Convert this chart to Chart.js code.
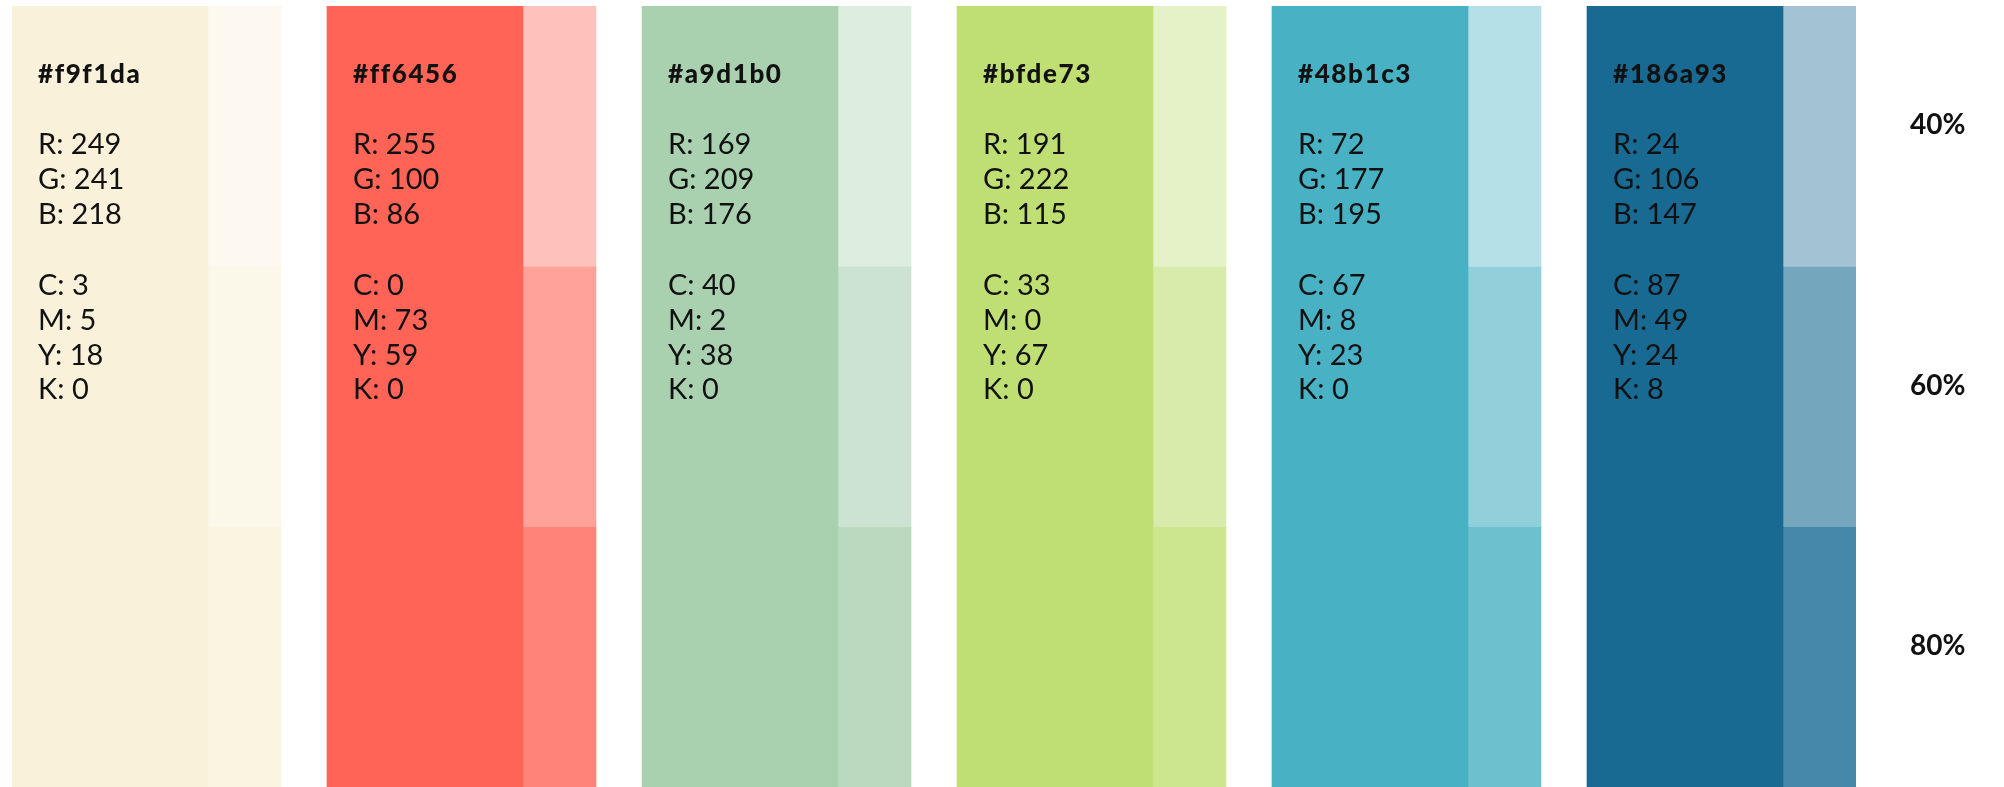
<!DOCTYPE html>
<html>
<head>
<meta charset="utf-8">
<title>Palette</title>
<script src="https://cdn.jsdelivr.net/npm/chart.js@4.4.1/dist/chart.umd.min.js"></script>
<style>
  html, body { margin: 0; padding: 0; background: #fff; }
  #wrap { width: 2004px; height: 787px; position: relative; }
</style>
</head>
<body>
<div id="wrap"><canvas id="chart"></canvas></div>
<script>
// Palette values
const hexCodes = ['#f9f1da', '#ff6456', '#a9d1b0', '#bfde73', '#48b1c3', '#186a93'];
const rValues = [249, 255, 169, 191, 72, 24];
const gValues = [241, 100, 209, 222, 177, 106];
const bValues = [218, 86, 176, 115, 195, 147];
const cValues = [3, 0, 40, 33, 67, 87];
const mValues = [5, 73, 2, 0, 8, 49];
const yValues = [18, 59, 38, 67, 23, 24];
const kValues = [0, 0, 0, 0, 0, 8];
const tintLabels = ['40%', '60%', '80%'];
const tintLevels = [40, 60, 80];

// Each swatch takes one unit on the x scale: wide main block, then the tint strip
const MAIN = 196 / 315;
const STRIP = 73 / 315;

// Mix a hex colour with white, pct = share of the colour that is kept
function tint(hex, pct) {
  const n = parseInt(hex.slice(1), 16);
  const mix = c => Math.round(c * pct / 100 + 255 * (1 - pct / 100));
  return 'rgb(' + mix((n >> 16) & 255) + ',' + mix((n >> 8) & 255) + ',' + mix(n & 255) + ')';
}

// One dataset for the main blocks, one per tint row for the strips
const mainData = hexCodes.map((h, i) => ({ x: [i, i + MAIN], y: 'all' }));
const stripSets = tintLabels.map((label, row) => ({
  label: label,
  yAxisID: 'y',
  data: hexCodes.map((h, i) => ({ x: [i + MAIN, i + MAIN + STRIP], y: label })),
  backgroundColor: hexCodes.map(h => tint(h, tintLevels[row])),
  borderWidth: 0
}));

// Writes the colour codes inside every main block
const swatchText = {
  id: 'swatchText',
  afterDatasetsDraw(chart) {
    const ctx = chart.ctx;
    const xs = chart.scales.x;
    const top = chart.chartArea.top;
    ctx.save();
    ctx.fillStyle = '#111';
    ctx.textAlign = 'left';
    ctx.textBaseline = 'alphabetic';
    hexCodes.forEach((hex, i) => {
      const x = xs.getPixelForValue(i) + 26;
      ctx.font = '900 26px Lato';
      ctx.letterSpacing = '1.6px';
      ctx.fillText(hex, x, top + 77);
      ctx.letterSpacing = '0px';
      ctx.font = '29px Lato';
      const rgb = ['R: ' + rValues[i], 'G: ' + gValues[i], 'B: ' + bValues[i]];
      rgb.forEach((t, k) => ctx.fillText(t, x, top + 148.3 + k * 34.6));
      const cmyk = ['C: ' + cValues[i], 'M: ' + mValues[i], 'Y: ' + yValues[i], 'K: ' + kValues[i]];
      cmyk.forEach((t, k) => ctx.fillText(t, x, top + 289 + k * 34.8));
    });
    ctx.restore();
  }
};

const ctx = document.getElementById('chart').getContext('2d');
new Chart(ctx, {
  type: 'bar',
  data: {
    datasets: [{
      label: 'main',
      yAxisID: 'yMain',
      data: mainData,
      backgroundColor: hexCodes,
      borderWidth: 0
    }].concat(stripSets)
  },
  options: {
    indexAxis: 'y',
    responsive: true,
    maintainAspectRatio: false,
    animation: false,
    datasets: {
      bar: { grouped: false, barPercentage: 1, categoryPercentage: 1 }
    },
    layout: { padding: { left: 12, top: 6, right: 0, bottom: 0 } },
    scales: {
      x: {
        type: 'linear',
        display: false,
        min: 0,
        max: hexCodes.length - 1 + MAIN + STRIP
      },
      yMain: {
        type: 'category',
        labels: ['all'],
        display: false
      },
      y: {
        type: 'category',
        labels: tintLabels,
        position: 'right',
        grid: { display: false, drawTicks: false },
        border: { display: false },
        ticks: {
          color: '#111',
          font: { family: 'Lato', size: 28, weight: 'bold' },
          padding: 54,
          labelOffset: -11,
          crossAlign: 'near'
        },
        afterFit: scale => {
          scale.width = 148;
          scale.paddingTop = 0;
          scale.paddingBottom = 0;
        }
      }
    },
    plugins: {
      legend: { display: false },
      tooltip: { enabled: false }
    }
  },
  plugins: [swatchText]
});
</script>
</body>
</html>
